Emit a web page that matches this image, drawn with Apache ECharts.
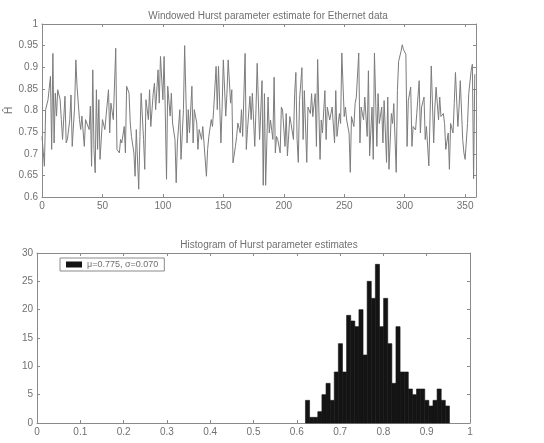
<!DOCTYPE html>
<html>
<head>
    <meta charset="UTF-8">
    <script src="https://cdn.jsdelivr.net/npm/echarts@6/dist/echarts.min.js"></script>
    <style>
        html, body { margin: 0; background: #ffffff; }
        #chart { width: 544px; height: 443px; }
    </style>
</head>
<body>
<div id="chart"></div>
<script type="text/javascript">
    // window number / estimated Hurst parameter (top panel)
    const hurstWin = [
        0, 2, 3, 5, 7, 8, 9, 10, 11, 12,
        13, 15, 16, 17, 19, 20, 21, 23, 24, 25,
        27, 28, 29, 31, 32, 33, 35, 36, 39, 40,
        41, 42, 43, 44, 45, 46, 47, 48, 50, 52,
        53, 55, 56, 57, 59, 61, 62, 64, 65, 66,
        68, 69, 70, 72, 73, 74, 76, 77, 78, 80,
        81, 82, 84, 85, 86, 88, 89, 90, 92, 93,
        94, 96, 97, 98, 100, 101, 102, 103, 104, 106,
        107, 108, 110, 111, 112, 114, 115, 117, 118, 120,
        121, 122, 124, 125, 126, 128, 129, 130, 132, 133,
        134, 136, 137, 138, 140, 141, 142, 144, 145, 146,
        148, 149, 150, 152, 153, 154, 156, 157, 158, 160,
        161, 162, 164, 165, 166, 168, 169, 170, 172, 173,
        174, 176, 177, 178, 180, 182, 183, 184, 185, 187,
        188, 189, 191, 192, 193, 194, 195, 197, 198, 199,
        201, 202, 203, 205, 206, 208, 209, 210, 211, 212,
        213, 215, 216, 217, 219, 220, 222, 223, 224, 226,
        227, 228, 230, 231, 232, 234, 235, 236, 238, 239,
        240, 242, 243, 244, 246, 247, 248, 250, 251, 252,
        254, 255, 256, 258, 259, 260, 262, 263, 264, 266,
        267, 269, 270, 271, 273, 274, 275, 277, 278, 279,
        281, 282, 283, 285, 286, 287, 289, 290, 291, 293,
        294, 295, 297, 298, 299, 301, 302, 303, 305, 306,
        307, 309, 310, 312, 313, 314, 316, 317, 318, 320,
        321, 322, 324, 325, 326, 328, 329, 330, 332, 333,
        334, 336, 337, 338, 340, 341, 342, 344, 345, 346,
        348, 349, 350, 352, 353, 355, 356, 357, 358
    ];
    const hurstVal = [
        0.740, 0.671, 0.802, 0.825, 0.879, 0.710, 0.932, 0.725, 0.840, 0.787,
        0.848, 0.825, 0.779, 0.733, 0.833, 0.725, 0.733, 0.779, 0.836, 0.717,
        0.810, 0.917, 0.856, 0.779, 0.756, 0.787, 0.717, 0.779, 0.756, 0.810,
        0.671, 0.894, 0.710, 0.656, 0.848, 0.710, 0.825, 0.687, 0.779, 0.756,
        0.787, 0.848, 0.748, 0.817, 0.779, 0.944, 0.710, 0.702, 0.733, 0.725,
        0.763, 0.702, 0.856, 0.840, 0.771, 0.740, 0.702, 0.648, 0.756, 0.618,
        0.740, 0.840, 0.733, 0.664, 0.825, 0.779, 0.848, 0.763, 0.840, 0.863,
        0.802, 0.894, 0.817, 0.925, 0.825, 0.925, 0.794, 0.641, 0.856, 0.787,
        0.840, 0.771, 0.733, 0.633, 0.725, 0.802, 0.687, 0.802, 0.950, 0.725,
        0.802, 0.748, 0.856, 0.725, 0.802, 0.771, 0.710, 0.756, 0.733, 0.763,
        0.725, 0.648, 0.710, 0.740, 0.779, 0.763, 0.802, 0.902, 0.802, 0.902,
        0.725, 0.810, 0.917, 0.787, 0.840, 0.917, 0.817, 0.848, 0.679, 0.717,
        0.740, 0.771, 0.748, 0.802, 0.740, 0.932, 0.710, 0.756, 0.833, 0.779,
        0.840, 0.717, 0.802, 0.909, 0.733, 0.869, 0.627, 0.839, 0.627, 0.831,
        0.748, 0.778, 0.733, 0.877, 0.702, 0.740, 0.733, 0.702, 0.808, 0.801,
        0.717, 0.793, 0.695, 0.786, 0.770, 0.733, 0.839, 0.888, 0.733, 0.680,
        0.823, 0.899, 0.733, 0.846, 0.680, 0.808, 0.793, 0.839, 0.786, 0.839,
        0.717, 0.918, 0.687, 0.778, 0.748, 0.846, 0.733, 0.808, 0.778, 0.793,
        0.808, 0.725, 0.846, 0.740, 0.793, 0.770, 0.933, 0.786, 0.808, 0.778,
        0.748, 0.657, 0.786, 0.763, 0.816, 0.831, 0.933, 0.725, 0.808, 0.778,
        0.831, 0.740, 0.892, 0.695, 0.808, 0.687, 0.933, 0.717, 0.839, 0.770,
        0.808, 0.725, 0.823, 0.680, 0.831, 0.664, 0.793, 0.770, 0.816, 0.657,
        0.846, 0.914, 0.937, 0.952, 0.941, 0.930, 0.717, 0.823, 0.854, 0.717,
        0.763, 0.755, 0.793, 0.869, 0.748, 0.808, 0.831, 0.733, 0.763, 0.672,
        0.786, 0.903, 0.725, 0.808, 0.854, 0.778, 0.831, 0.786, 0.793, 0.770,
        0.710, 0.748, 0.664, 0.770, 0.748, 0.816, 0.888, 0.763, 0.808, 0.869,
        0.733, 0.702, 0.687, 0.770, 0.839, 0.892, 0.907, 0.642, 0.884
    ];

    // histogram (bottom panel): left bin edges and counts
    const binLeft = [
        0.6200, 0.6295, 0.6390, 0.6485, 0.6580, 0.6675, 0.6770, 0.6865, 0.6960, 0.7055,
        0.7150, 0.7245, 0.7340, 0.7435, 0.7530, 0.7625, 0.7720, 0.7815, 0.7910, 0.8005,
        0.8100, 0.8195, 0.8290, 0.8385, 0.8480, 0.8575, 0.8670, 0.8765, 0.8860, 0.8955,
        0.9050, 0.9145, 0.9240, 0.9335, 0.9430
    ];
    const binWidth = 0.0095;
    const binCount = [
        4, 1, 1, 2, 5, 7, 4, 9, 14, 9,
        19, 18, 17, 20, 12, 25, 22, 28, 17, 22,
        14, 7, 17, 9, 9, 6, 5, 6, 6, 4,
        3, 4, 6, 4, 3
    ];
    const legendText = 'μ=0.775, σ=0.070';

    const axisColor = '#8a8a8a';
    const textColor = '#707070';
    const font = 'Liberation Sans';

    const chart = echarts.init(document.getElementById('chart'));

    function mainAxis(grid, min, max, interval, extra) {
        return Object.assign({
            type: 'value',
            gridIndex: grid,
            min: min,
            max: max,
            interval: interval,
            splitLine: {show: false},
            axisLine: {show: true, onZero: false, lineStyle: {color: axisColor, width: 1}},
            axisTick: {show: true, inside: true, length: 3, lineStyle: {color: axisColor}},
            axisLabel: {color: textColor, fontSize: 10, fontFamily: font, margin: 4}
        }, extra || {});
    }

    function boxAxis(grid, min, max, interval, pos) {
        return {
            type: 'value',
            gridIndex: grid,
            position: pos,
            min: min,
            max: max,
            interval: interval,
            splitLine: {show: false},
            axisLine: {show: true, onZero: false, lineStyle: {color: axisColor, width: 1}},
            axisTick: {show: true, inside: true, length: 3, lineStyle: {color: axisColor}},
            axisLabel: {show: false}
        };
    }

    const lineData = hurstWin.map(function (w, i) { return [w, hurstVal[i]]; });
    const histData = binLeft.map(function (x, i) { return [x, x + binWidth, binCount[i]]; });

    chart.setOption({
        animation: false,
        backgroundColor: '#ffffff',
        title: [
            {
                text: 'Windowed Hurst parameter estimate for Ethernet data',
                left: 263,
                top: 6,
                textAlign: 'center',
                textStyle: {fontSize: 10, fontWeight: 'normal', color: textColor, fontFamily: font}
            },
            {
                text: 'Histogram of Hurst parameter estimates',
                left: 264,
                top: 235,
                textAlign: 'center',
                textStyle: {fontSize: 10, fontWeight: 'normal', color: textColor, fontFamily: font}
            }
        ],
        legend: {
            data: [{name: legendText, icon: 'rect'}],
            left: 60,
            top: 258,
            padding: [2, 6],
            itemWidth: 16,
            itemHeight: 6,
            borderColor: '#8a8a8a',
            borderWidth: 1,
            backgroundColor: '#ffffff',
            textStyle: {fontSize: 9, color: textColor, fontFamily: font}
        },
        grid: [
            {left: 42, top: 24, width: 434, height: 173, outerBoundsMode: 'none'},
            {left: 37, top: 253, width: 433, height: 170, outerBoundsMode: 'none'}
        ],
        xAxis: [
            mainAxis(0, 0, 359, 50),
            boxAxis(0, 0, 359, 50, 'top'),
            mainAxis(1, 0, 1, 0.1),
            boxAxis(1, 0, 1, 0.1, 'top')
        ],
        yAxis: [
            mainAxis(0, 0.6, 1, 0.05, {
                name: 'Ĥ',
                nameLocation: 'middle',
                nameRotate: 90,
                nameGap: 28,
                nameMoveOverlap: false,
                nameTextStyle: {fontSize: 10, color: textColor, fontFamily: font}
            }),
            boxAxis(0, 0.6, 1, 0.05, 'right'),
            mainAxis(1, 0, 30, 5),
            boxAxis(1, 0, 30, 5, 'right')
        ],
        series: [
            {
                type: 'line',
                xAxisIndex: 0,
                yAxisIndex: 0,
                data: lineData,
                showSymbol: false,
                symbol: 'none',
                lineStyle: {color: '#7c7c7c', width: 1},
                z: 3
            },
            {
                type: 'custom',
                name: legendText,
                xAxisIndex: 2,
                yAxisIndex: 2,
                data: histData,
                encode: {x: [0, 1], y: 2},
                itemStyle: {color: '#141414'},
                renderItem: function (params, api) {
                    const p0 = api.coord([api.value(0), api.value(2)]);
                    const p1 = api.coord([api.value(1), 0]);
                    return {
                        type: 'rect',
                        shape: {x: p0[0], y: p0[1], width: p1[0] - p0[0], height: p1[1] - p0[1]},
                        style: {fill: '#141414', stroke: '#141414', lineWidth: 0.6}
                    };
                }
            }
        ]
    });
</script>
</body>
</html>
